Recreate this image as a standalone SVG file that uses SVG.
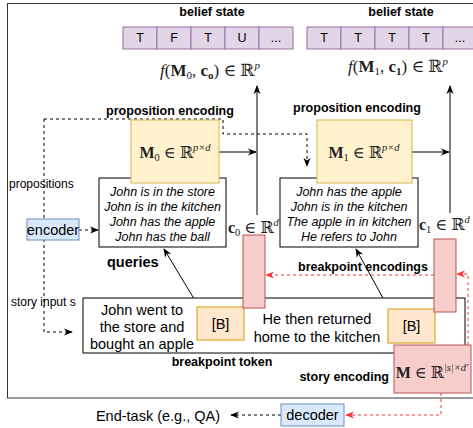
<svg xmlns="http://www.w3.org/2000/svg" width="473" height="428" viewBox="0 0 473 428">
<style>
.s{font-family:"Liberation Sans",Arial,sans-serif;fill:#000}
.b{font-family:"Liberation Sans",Arial,sans-serif;font-weight:bold;font-size:12.5px;fill:#000}
.it{font-family:"Liberation Sans",Arial,sans-serif;font-style:italic;font-size:12.5px;fill:#000}
.m{font-family:"Liberation Serif","DejaVu Serif",serif;fill:#222}
.mb{font-weight:bold}
.cell{fill:#e1d5e7;stroke:#9673a6;stroke-width:1}
.blue{fill:#dae8fc;stroke:#6c8ebf;stroke-width:1}
.yel{fill:#fff2cc;stroke:#d6b656;stroke-width:1}
.org{fill:#ffe6cc;stroke:#d79b00;stroke-width:1}
.pink{fill:#f8cecc;stroke:#b85450;stroke-width:1}
.box{fill:#fff;stroke:#000;stroke-width:1}
.ln{fill:none;stroke:#000;stroke-width:1}
.dl{fill:none;stroke:#000;stroke-width:1;stroke-dasharray:3 3}
.rl{fill:none;stroke:#ff3333;stroke-width:1;stroke-dasharray:3 3}
</style>
<defs>
<marker id="ab" viewBox="0 0 10 10" refX="9" refY="5" markerWidth="9" markerHeight="9" orient="auto" markerUnits="userSpaceOnUse"><path d="M0,1 L10,5 L0,9 L3,5 z" fill="#000"/></marker>
<marker id="ar" viewBox="0 0 10 10" refX="9" refY="5" markerWidth="9" markerHeight="9" orient="auto" markerUnits="userSpaceOnUse"><path d="M0,1 L10,5 L0,9 L3,5 z" fill="#ff3333"/></marker>
</defs>
<rect x="7.5" y="3.5" width="466" height="394.5" fill="none" stroke="#333" stroke-width="1"/>

<g id="belief0">
<text class="b" x="212" y="16" text-anchor="middle">belief state</text>
<rect class="cell" x="123" y="27" width="34" height="22"/>
<rect class="cell" x="157" y="27" width="34" height="22"/>
<rect class="cell" x="191" y="27" width="34" height="22"/>
<rect class="cell" x="225" y="27" width="34" height="22"/>
<rect class="cell" x="259" y="27" width="34" height="22"/>
<g class="s" font-size="12.5" text-anchor="middle">
<text x="140" y="42">T</text><text x="174" y="42">F</text><text x="208" y="42">T</text><text x="242" y="42">U</text><text x="276" y="42">...</text>
</g>
</g>
<g id="belief1">
<text class="b" x="401" y="16" text-anchor="middle">belief state</text>
<rect class="cell" x="307" y="27" width="34" height="22"/>
<rect class="cell" x="341" y="27" width="34" height="22"/>
<rect class="cell" x="375" y="27" width="34" height="22"/>
<rect class="cell" x="409" y="27" width="34" height="22"/>
<rect class="cell" x="443" y="27" width="34" height="22"/>
<g class="s" font-size="12.5" text-anchor="middle">
<text x="324" y="42">T</text><text x="358" y="42">T</text><text x="392" y="42">T</text><text x="426" y="42">T</text><text x="460" y="42">...</text>
</g>
</g>
<g id="f0">
<text class="m" x="210" y="76" font-size="17" text-anchor="middle"><tspan font-style="italic">f</tspan>(<tspan class="mb">M</tspan><tspan font-size="11" dy="3">0</tspan><tspan dy="-3">, </tspan><tspan class="mb">c</tspan><tspan class="mb" font-size="11" dy="3">o</tspan><tspan dy="-3">) ∈ ℝ</tspan><tspan font-size="11" font-style="italic" dy="-7">p</tspan></text>
</g>
<g id="f1">
<text class="m" x="398" y="72" font-size="17" text-anchor="middle"><tspan font-style="italic">f</tspan>(<tspan class="mb">M</tspan><tspan font-size="11" dy="3">1</tspan><tspan dy="-3">, </tspan><tspan class="mb">c</tspan><tspan class="mb" font-size="11" dy="3">1</tspan><tspan dy="-3">) ∈ ℝ</tspan><tspan font-size="11" font-style="italic" dy="-7">p</tspan></text>
</g>

<g id="labels">
<text class="b" x="170" y="115" text-anchor="middle">proposition encoding</text>
<text class="b" x="357" y="112" text-anchor="middle">proposition encoding</text>
<text class="s" x="9" y="188" font-size="12">propositions</text>
<text class="s" x="11" y="306" font-size="12">story input s</text>
<text class="b" x="107" y="267" style="font-size:14.5px">queries</text>
<text class="b" x="298" y="271">breakpoint  encodings</text>
<text class="b" x="222" y="366" text-anchor="middle">breakpoint token</text>
<text class="b" x="389" y="381" text-anchor="end">story encoding</text>
<text class="s" x="158" y="421" font-size="14.5" text-anchor="middle">End-task (e.g., QA)</text>
</g>

<g id="connectors">
<path class="dl" d="M44,119 H223 V134 H307 V166" marker-end="url(#ab)"/>
<path class="dl" d="M44,119 V332 H72" marker-end="url(#ab)"/>
<path class="dl" d="M79,230 H98" marker-end="url(#ab)"/>
<path class="ln" d="M219,152 H256" marker-end="url(#ab)"/>
<path class="ln" d="M412,152 H449" marker-end="url(#ab)"/>
<path class="ln" d="M257,215 V86" marker-end="url(#ab)"/>
<path class="ln" d="M450,213 V86" marker-end="url(#ab)"/>
<path class="ln" d="M199,307 L164,249" marker-end="url(#ab)"/>
<path class="ln" d="M389,309 L356,249" marker-end="url(#ab)"/>
<path class="rl" d="M468,345 V274 H457" marker-end="url(#ar)"/>
<path class="rl" d="M434,275 H266" marker-end="url(#ar)"/>
<path class="rl" d="M441,393 V415 H346" marker-end="url(#ar)"/>
<path class="dl" d="M281,415 H231" marker-end="url(#ab)"/>
</g>

<g id="prop0">
<rect class="box" x="99" y="178" width="127" height="69"/>
<g class="it" text-anchor="middle">
<text x="162.5" y="195.5">John is in the store</text>
<text x="162.5" y="210.5">John is in the kitchen</text>
<text x="162.5" y="225.5">John has the apple</text>
<text x="162.5" y="240.5">John has the ball</text>
</g>
</g>
<g id="M0">
<rect class="yel" x="131" y="120" width="88" height="63"/>
<text class="m" x="175" y="158" font-size="16" text-anchor="middle"><tspan class="mb">M</tspan><tspan font-size="10.5" dy="3">0</tspan><tspan dy="-3"> ∈ ℝ</tspan><tspan font-size="10.5" font-style="italic" dy="-7">p×d</tspan></text>
</g>
<g id="prop1">
<rect class="box" x="280" y="178" width="138" height="69"/>
<g class="it" text-anchor="middle">
<text x="349" y="195.5">John has the apple</text>
<text x="349" y="210.5">John is in the kitchen</text>
<text x="349" y="225.5">The apple in in kitchen</text>
<text x="349" y="240.5">He refers to John</text>
</g>
</g>
<g id="M1">
<rect class="yel" x="317" y="120" width="95" height="63"/>
<text class="m" x="364" y="158" font-size="16" text-anchor="middle"><tspan class="mb">M</tspan><tspan font-size="10.5" dy="3">1</tspan><tspan dy="-3"> ∈ ℝ</tspan><tspan font-size="10.5" font-style="italic" dy="-7">p×d</tspan></text>
</g>
<g id="c0">
<text class="m" x="228" y="233" font-size="16"><tspan class="mb">c</tspan><tspan font-size="10.5" dy="3">0</tspan><tspan dy="-3"> ∈ ℝ</tspan><tspan font-size="10.5" font-style="italic" dy="-7">d</tspan></text>
</g>
<g id="c1">
<text class="m" x="419" y="230" font-size="16"><tspan class="mb">c</tspan><tspan font-size="10.5" dy="3">1</tspan><tspan dy="-3"> ∈ ℝ</tspan><tspan font-size="10.5" font-style="italic" dy="-7">d</tspan></text>
</g>
<g id="encoder">
<rect class="blue" x="27" y="219" width="52" height="21"/>
<text class="s" x="53" y="235" font-size="14.5" text-anchor="middle">encoder</text>
</g>
<g id="story">
<rect class="box" x="83" y="298" width="382" height="55"/>
<g class="s" font-size="14.5" text-anchor="middle">
<text x="142" y="315">John went to</text>
<text x="142" y="332">the store and</text>
<text x="142" y="349">bought an apple</text>
<text x="317" y="324">He then returned</text>
<text x="317" y="342">home to the kitchen</text>
</g>
</g>
<g id="B0">
<rect class="org" x="197" y="307" width="47" height="33"/>
<text class="s" x="220.5" y="329" font-size="14.5" text-anchor="middle">[B]</text>
</g>
<g id="B1">
<rect class="org" x="388" y="309" width="47" height="34"/>
<text class="s" x="411.5" y="331" font-size="14.5" text-anchor="middle">[B]</text>
</g>
<g id="bp0">
<rect class="pink" x="243" y="235" width="22" height="73"/>
</g>
<g id="bp1">
<rect class="pink" x="434" y="239" width="22" height="73"/>
</g>
<g id="M">
<rect class="pink" x="394" y="345" width="77" height="48"/>
<text class="m" x="432" y="378" font-size="16" text-anchor="middle"><tspan class="mb">M</tspan><tspan> ∈ ℝ</tspan><tspan font-size="10.5" font-style="italic" dy="-7">|s|×d′</tspan></text>
</g>
<g id="decoder">
<rect class="blue" x="281" y="404" width="63" height="22"/>
<text class="s" x="312.5" y="420" font-size="14.5" text-anchor="middle">decoder</text>
</g>
</svg>
